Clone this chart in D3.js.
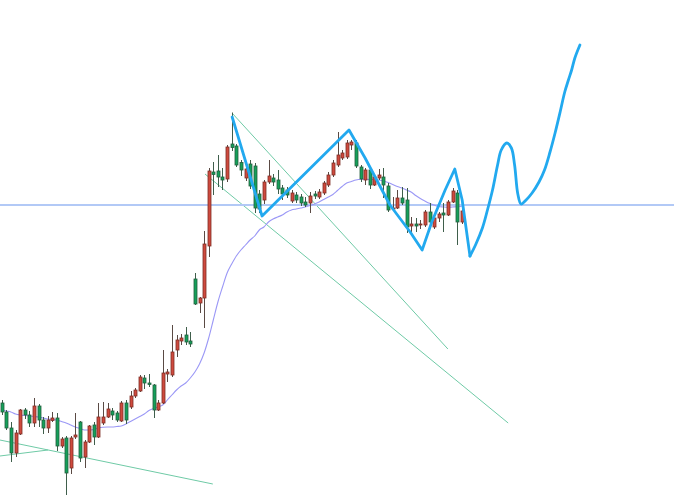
<!DOCTYPE html>
<html><head><meta charset="utf-8">
<script src="https://cdn.jsdelivr.net/npm/d3@7"></script>
<style>html,body{margin:0;padding:0;background:#fff;}svg{display:block;}</style>
</head><body>
<svg id="chart" width="674" height="500"></svg>
<script>
// Candle OHLC values (price units), one per bar index 0..100
const open  = [97,88,72,47,66,90,85,77,94,80,72,79.5,82,54,62,32,63,78,43,58,75,63,77,83,89,87,79,97,93,104,109,122,117,115,90,97,126,125,150,159,165,159,221,197,202,254,328,329,323,321,356,354,337.5,322,336,334,306,300,318,322,320,312,310,299,305,303,298,297,306,303,307,315,325,335,342,343,355,357,333,320,330,315,322,323,314,291,292,302,300,274,276,275,275,288,273,282,287,285,298,307,278];
const close = [88,72,47,67,90,85,77,94,80,72,80,82,54,61,27,62,65,42,58,74,63,83,83,91,85,80,97,80,104,110,123,117,115.5,90,97,127,128,148,160,162,158,156,196,202,256,329,325.5,323,320,353,352.5,335,330,331,314,292,291,318,324,318,311,306,305,307,300,297,295,304,304,308,317,325,337,345,347,357,358,334,321,330,315,323,325,315,290,292,302,297,273,276,274,276,288,278,282,286,285,298,309,278,289];
const high  = [100,90,78,70,91,92,89,102,96,83,84,88,87,63,64,64,87,79,60,75,78,97,98,97,92,89,99,100,109,112,125,125,126,116,100,150,131,175,165,166,173,168,227,203,269,332,338,345,332,355,387.5,356,340,335,340,337,310,320,340,326,330,315,313,310,308,306,303,308,309,311,319,328,340,368,350,360,360,360,335,332,331,324,331,332,317,303,310,313,312,283,282,280,290,297,283,288,297,300,312,310,296];
const low   = [85,70,38,43,65,81,73,73,73,66,67,78,49,52,5,26,61,38,32,57,55,62,75,82,80,78,78,76,91,102,108,111,113,82,89,96,118,123,143,155,155,153,195,187,172,243,305,313,310,318,349,333,324,319,311,287,287,296,316,314,306,300,302,297,297,294,293,287,301,301,305,313,323,333,340,341,350,332,318,315,311,314,320,302,288,290,291,295,267,268,268,271,273,275,271,278,268,284,297,255,276];
// Moving average (price units), one per bar
const ma = [90,89,88,86,85,84.5,84,83.5,83,82,81,80.5,80,78.5,77,75,73,71.5,70,70,70.5,72,72.7,73,73,73.5,74,76,78.5,81,83.5,86,89.5,91.5,93,95,100,105,110,114,117,122,128,136,147,162,180,198,213,227,236,244,250,255,260,264,270,273,278,281,283,285,288,290,291,292,293,294.5,296,298,300.5,303,305.5,309.5,313.5,317,318.5,320,320.7,320.7,320.5,320.5,320,319,317.5,315.5,313.5,312,310,308,304.5,301.5,299,296.7,295,293.5,293,292.7,293,293.3,293.5];
// Horizontal price line
const hLinePrice = [295];
// Thin trend lines: [[idx, price],[idx, price]]
const trendLines = [
  [[50.07,387],[97.0,151]],
  [[44.2,326],[110.1,77]],
  [[-0.4,60],[45.9,16]],
  [[-0.4,44],[10.07,50]]
];
// Hand drawn thick blue path (idx, price): straight strokes, then a free curve
const blueStraight = [[50.1,383],[56.6,284],[75.5,370],[79.0,342],[84.4,295],[88.8,268],[91.4,250],[93.5,278],[96.4,310],[98.5,331],[100.1,300],[101.8,244]];
const blueCurve = [[101.8,244],[103.0,255],[104.5,272],[105.6,290],[106.7,310],[107.8,335],[108.6,350],[109.8,357],[110.8,352],[111.5,335],[112.2,306],[112.9,296],[114.0,300],[115.3,307],[116.8,318],[118.0,330],[119.2,348],[120.3,367],[121.4,388],[122.4,408],[123.2,420],[123.9,430],[124.6,442],[125.7,455]];

const svg = d3.select('#chart');
const x = d3.scaleLinear().domain([0,100]).range([1.7,461.7]);
const y = d3.scaleLinear().domain([0,500]).range([500,0]);

const line = d3.line().x(d=>x(d[0])).y(d=>y(d[1]));

// trend lines
svg.append('g').selectAll('path').data(trendLines).join('path')
  .attr('d', line).attr('fill','none').attr('stroke','#6fcaa6').attr('stroke-width',1);

// horizontal line
svg.append('g').selectAll('line').data(hLinePrice).join('line')
  .attr('x1',0).attr('x2',674).attr('y1',d=>y(d)).attr('y2',d=>y(d))
  .attr('stroke','#b2c9f6').attr('stroke-width',1.8);

// MA
svg.append('path').datum(ma.map((v,i)=>[i,v]))
  .attr('d', d3.line().x(d=>x(d[0])).y(d=>y(d[1])).curve(d3.curveMonotoneX))
  .attr('fill','none').attr('stroke','#9b98f6').attr('stroke-width',1.1);

// candles
const idx = d3.range(open.length);
const up = i => close[i] >= open[i];
const g = svg.append('g');
g.selectAll('line.w').data(idx).join('line').attr('class','w')
  .attr('x1',i=>Math.round(x(i))+0.5).attr('x2',i=>Math.round(x(i))+0.5)
  .attr('y1',i=>y(high[i])).attr('y2',i=>y(low[i]))
  .attr('stroke',i=>up(i)?'#5a4a44':'#3f5e4b').attr('stroke-width',1);
g.selectAll('rect').data(idx).join('rect')
  .attr('x',i=>Math.round(x(i))-1)
  .attr('width',3)
  .attr('y',i=>y(Math.max(open[i],close[i])))
  .attr('height',i=>Math.max(1,Math.abs(y(open[i])-y(close[i]))))
  .attr('fill',i=>up(i)?'#cf4a3e':'#14a05a')
  .attr('stroke',i=>up(i)?'#7d2e25':'#245c3d').attr('stroke-width',0.8);

// blue hand drawn path
const blue = '#22a9ef';
svg.append('path').datum(blueStraight).attr('d', line)
  .attr('fill','none').attr('stroke',blue).attr('stroke-width',2.8).attr('stroke-linejoin','round').attr('stroke-linecap','round');
svg.append('path').datum(blueCurve).attr('d', d3.line().x(d=>x(d[0])).y(d=>y(d[1])).curve(d3.curveCatmullRom))
  .attr('fill','none').attr('stroke',blue).attr('stroke-width',2.8).attr('stroke-linejoin','round').attr('stroke-linecap','round');
</script>
</body></html>
